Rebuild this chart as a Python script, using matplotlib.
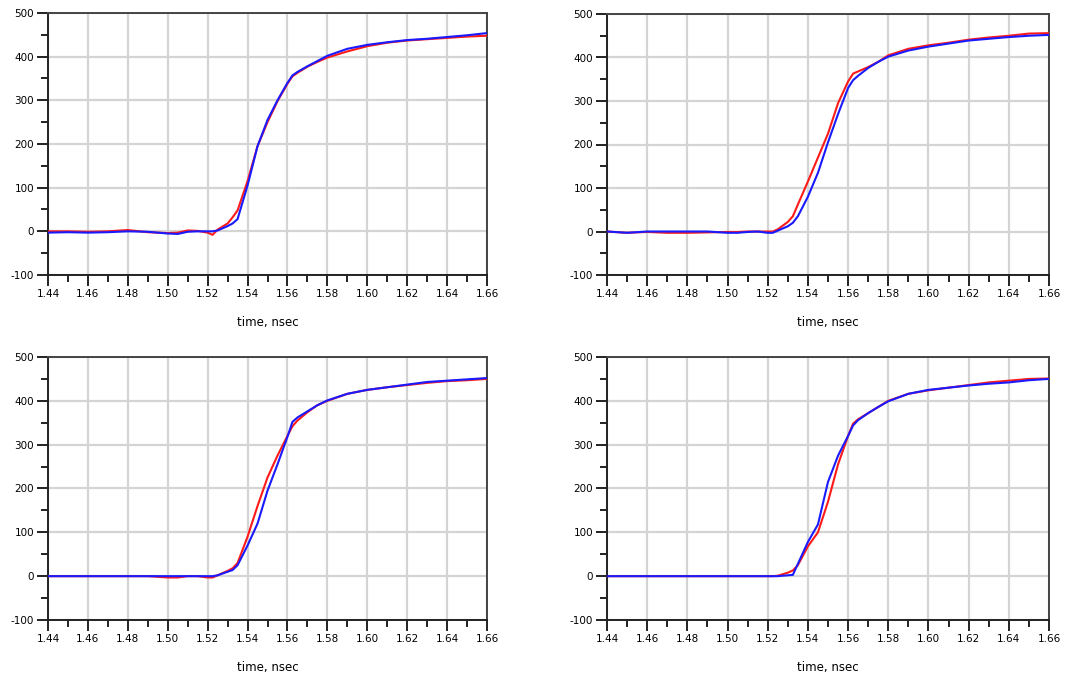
import matplotlib
matplotlib.use("Agg")
import matplotlib.pyplot as plt
from matplotlib.ticker import MultipleLocator, FormatStrFormatter

plt.rcParams['axes.unicode_minus'] = False

# shared time grid, nsec
T = [1.44, 1.45, 1.46, 1.47, 1.48, 1.49, 1.50, 1.505, 1.51, 1.515, 1.52, 1.5225, 1.525,
     1.53, 1.5325, 1.535, 1.54, 1.545, 1.55, 1.555, 1.56, 1.5625, 1.565, 1.57, 1.575,
     1.58, 1.59, 1.60, 1.61, 1.62, 1.63, 1.64, 1.65, 1.66]

# top left
red1 = [0, 0, -1, 0, 3, -2, -4, -3, 2, 1, -3, -8, 4,
        18, 32, 48, 115, 195, 250, 298, 338, 355, 363, 377, 388,
        398, 412, 424, 432, 437, 440, 443, 446, 448]
blue1 = [-3, -2, -3, -2, 0, -1, -5, -6, -1, 0, 0, 0, 2,
         12, 18, 28, 105, 195, 255, 300, 340, 357, 365, 378, 390,
         402, 418, 427, 433, 438, 441, 445, 449, 454]
# top right
red2 = [0, -3, -1, -3, -3, -2, -1, -1, 0, 0, 0, 0, 5,
        22, 35, 62, 115, 170, 225, 295, 345, 363, 368, 378, 390,
        405, 420, 428, 434, 441, 446, 450, 455, 456]
blue2 = [0, -3, 0, 0, 0, 0, -3, -3, -1, 0, -3, -3, 2,
         12, 20, 35, 80, 135, 205, 270, 330, 348, 358, 376, 390,
         402, 416, 425, 432, 439, 443, 447, 450, 452]
# bottom left
red3 = [0, 0, 0, 0, 0, 0, -3, -3, 0, 0, -3, -3, 2,
        12, 18, 30, 90, 160, 225, 275, 320, 342, 355, 374, 390,
        400, 416, 425, 431, 436, 441, 445, 447, 450]
blue3 = [0, 0, 0, 0, 0, 0, 0, 0, 0, 0, 0, 0, 2,
         10, 14, 25, 70, 120, 195, 255, 318, 352, 362, 376, 390,
         401, 416, 425, 431, 437, 443, 446, 449, 452]
# bottom right
red4 = [0, 0, 0, 0, 0, 0, 0, 0, 0, 0, 0, 0, 1,
        8, 13, 25, 68, 100, 170, 255, 320, 348, 358, 372, 386,
        400, 416, 424, 430, 436, 442, 446, 450, 451]
blue4 = [0, 0, 0, 0, 0, 0, 0, 0, 0, 0, 0, 0, 0,
         2, 3, 28, 78, 118, 215, 275, 320, 344, 356, 372, 386,
         399, 416, 425, 430, 435, 439, 442, 447, 450]

panels = [(red1, blue1), (red2, blue2), (red3, blue3), (red4, blue4)]
xticks = [1.44, 1.46, 1.48, 1.50, 1.52, 1.54, 1.56, 1.58, 1.60, 1.62, 1.64, 1.66]
yticks = [-100, 0, 100, 200, 300, 400, 500]

W, H = 1076, 679
boxes = [(48, 13, 487, 275), (607, 14, 1049, 275),
         (48, 357, 487, 620), (607, 357, 1049, 620)]

fig = plt.figure(figsize=(W / 100, H / 100), dpi=100)

for (r, b), (x0, y0, x1, y1) in zip(panels, boxes):
    ax = fig.add_axes([x0 / W, 1 - y1 / H, (x1 - x0) / W, (y1 - y0) / H])
    ax.plot(T, r, color='#ff1a1a', lw=1.5, zorder=3)
    ax.plot(T, b, color='#1a1aff', lw=1.5, zorder=4)
    ax.set_xlim(1.44, 1.66)
    ax.set_ylim(-100, 500)
    ax.set_xticks(xticks)
    ax.set_yticks(yticks)
    ax.xaxis.set_minor_locator(MultipleLocator(0.01))
    ax.yaxis.set_minor_locator(MultipleLocator(50))
    ax.xaxis.set_major_formatter(FormatStrFormatter('%.2f'))
    ax.grid(True, which='major', color='#d4d4d4', lw=1.6)
    ax.set_axisbelow(True)
    ax.tick_params(which='major', direction='out', length=8, width=1.4, color='#222222',
                   labelsize=7.5, pad=2)
    ax.tick_params(which='minor', direction='out', length=5, width=1.4, color='#222222')
    for s in ax.spines.values():
        s.set_color('#444444')
        s.set_linewidth(1.4)
    ax.spines['left'].set_color('#222222')
    ax.spines['bottom'].set_color('#222222')
    ax.set_xlabel('time, nsec', fontsize=8.5, labelpad=12)

fig.savefig('out.png', dpi=100)
